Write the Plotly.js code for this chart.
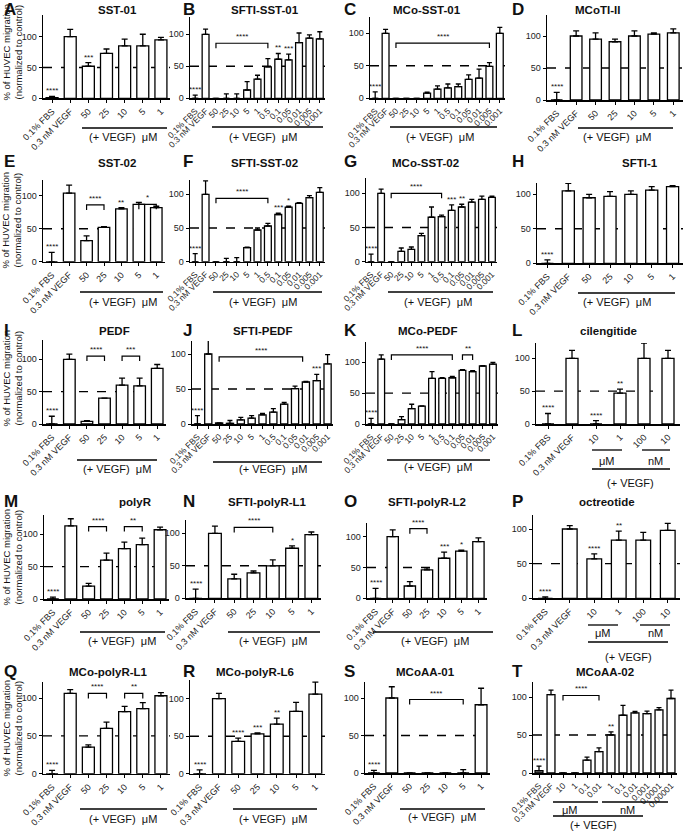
<!DOCTYPE html>
<html><head><meta charset="utf-8">
<script src="https://cdn.plot.ly/plotly-3.0.1.min.js"></script>
<style>html,body{margin:0;padding:0;background:#fff}#chart{width:685px;height:832px}</style>
</head><body><div id="chart"></div>
<script>
// ---------- categories ----------
const catsUM = ['0.1% FBS','0.3 nM VEGF','50','25','10','5','1'];
const catsUMfine = ['0.1% FBS','0.3 nM VEGF','50','25','10','5','1','0.5','0.1','0.05','0.01','0.005','0.001'];
const catsUMnM = ['0.1% FBS','0.3 nM VEGF','10','1','100','10'];
const catsMCoAA02 = ['0.1% FBS','0.3 nM VEGF','10','1','0.1','0.01','1','0.1','0.01','0.001','0.0001','0.00001'];

// ---------- values (mean, upper SEM), significance, brackets [from, to, height, label] ----------
const sst01Mean = [1,100,52,73,85,85,95];
const sst01Err  = [2,12,6,7,11,19,4];
const sst01Sig  = ['****','','***','','','',''];
const sst01Br   = [];

const sftiSst01Mean = [0,100,0,0,0,13,30,49,61,60,87,94,93];
const sftiSst01Err  = [5,8,0,7,7,13,6,13,9,9,15,5,11];
const sftiSst01Sig  = ['****','','','','','','','','**','***','','',''];
const sftiSst01Br   = [[2,7,86,'****']];

const mcoSst01Mean = [0,100,0,0,0,8,14,16,18,29,31,49,100];
const mcoSst01Err  = [10,6,0,0,0,1.5,5,6,4,7,14,6,9];
const mcoSst01Sig  = ['****','','','','','','','','','','','',''];
const mcoSst01Br   = [[2,11,85,'****']];

const mcotiMean = [0,100,95,91,100,103,105];
const mcotiErr  = [12,8,10,4,8,2,6];
const mcotiSig  = ['****','','','','','',''];
const mcotiBr   = [];

const sst02Mean = [0,104,32,52,80,87,82];
const sst02Err  = [14,12,7,1,2,3,2];
const sst02Sig  = ['****','','','','**','',''];
const sst02Br   = [[2,3,86,'****'],[5,6,87,'*']];

const sftiSst02Mean = [0,100,0,0,0,21,47,53,70,81,86.5,95,103];
const sftiSst02Err  = [12,20,0,5,6,0.5,3,4,2,1.5,1,3,7];
const sftiSst02Sig  = ['****','','','','','','','','***','*','','',''];
const sftiSst02Br   = [[2,7,94,'****']];

const mcoSst02Mean = [0,100,0,15,18,38,65,66,75,80,87,91,94];
const mcoSst02Err  = [11,6,0,5,3.5,3.5,15,2,8,4,4,5,2];
const mcoSst02Sig  = ['****','','','','','','','','***','**','','',''];
const mcoSst02Br   = [[2,7,100,'****']];

const sfti1Mean = [0,105,95,97,100,106,111];
const sfti1Err  = [5,11,5,7,5,5,1.5];
const sfti1Sig  = ['****','','','','','',''];
const sfti1Br   = [];

const pedfMean = [0,100,4,40,60,59,86];
const pedfErr  = [12,8,1,0,11,12,6];
const pedfSig  = ['****','','','','','',''];
const pedfBr   = [[2,3,105,'****'],[4,5,105,'***']];

const sftiPedfMean = [0,100,1.5,1,6,8.5,13,17,28.5,50.5,60,62,86];
const sftiPedfErr  = [12,22,0,4,3.5,3.5,2,5,2.5,3.5,1,9,13];
const sftiPedfSig  = ['****','','','','','','','','','','','***',''];
const sftiPedfBr   = [[2,9.7,96,'****']];

const mcoPedfMean = [0,105,0,7,25,29,74,74,75,87,85,94,97];
const mcoPedfErr  = [9,7,0,5,7,0.5,11,1,2,1,1.5,0.5,3];
const mcoPedfSig  = ['****','','','','','','','','','','','',''];
const mcoPedfBr   = [[2,8,112,'****'],[9,10,112,'**']];

const cilengitideMean = [0,100,0,47,100,100];
const cilengitideErr  = [16,12,5,6,23,12];
const cilengitideSig  = ['****','','****','**','',''];
const cilengitideBr   = [];

const polyRMean = [0,113,20,60,78,84,107];
const polyRErr  = [3,11,4,11,10,10,4];
const polyRSig  = ['****','','','','','',''];
const polyRBr   = [[2,3,112,'****'],[4,5,112,'**']];

const sftiPolyRL1Mean = [0,100,30,39,50,77,98];
const sftiPolyRL1Err  = [14,11,7,3,9,3.5,4];
const sftiPolyRL1Sig  = ['****','','','','','*',''];
const sftiPolyRL1Br   = [[2,4,109,'****']];

const sftiPolyRL2Mean = [0,100,20,46,65,76.5,92];
const sftiPolyRL2Err  = [16,11,7,3.5,10,1.5,6];
const sftiPolyRL2Sig  = ['****','','','','***','*',''];
const sftiPolyRL2Br   = [[2,3,113,'****']];

const octreotideMean = [0,100,57,84,84,98];
const octreotideErr  = [2,5,7,13,11,10];
const octreotideSig  = ['****','','****','**','',''];
const octreotideBr   = [];

const mcoPolyRL1Mean = [0,106,35,60,82,86,103];
const mcoPolyRL1Err  = [4.5,5,3,8,7,8,4];
const mcoPolyRL1Sig  = ['****','','','','','',''];
const mcoPolyRL1Br   = [[2,3,106,'****'],[4,5,106,'**']];

const mcoPolyRL6Mean = [0,100,43,53,66,83,106];
const mcoPolyRL6Err  = [5,7,4.5,1.5,8,12,16];
const mcoPolyRL6Sig  = ['****','','****','***','**','',''];
const mcoPolyRL6Br   = [];

const mcoAA01Mean = [0,100,0,0,0,0,91];
const mcoAA01Err  = [3.5,15,0,0,0,4.5,22];
const mcoAA01Sig  = ['****','','','','','',''];
const mcoAA01Br   = [[2,5,98,'****']];

const mcoAA02Mean = [3,103,0,0,17,28,50,76,79,78,83,98];
const mcoAA02Err  = [6,6,0,0,4,5,4,13,2,3.5,3,11];
const mcoAA02Sig  = ['****','','','','','','**','','','','',''];
const mcoAA02Br   = [[2,5,102,'****']];

const panels = [
 {L:'A', title:'SST-01',        cats:catsUM,     mean:sst01Mean,      err:sst01Err,      sig:sst01Sig,      br:sst01Br},
 {L:'B', title:'SFTI-SST-01',   cats:catsUMfine, mean:sftiSst01Mean,  err:sftiSst01Err,  sig:sftiSst01Sig,  br:sftiSst01Br},
 {L:'C', title:'MCo-SST-01',    cats:catsUMfine, mean:mcoSst01Mean,   err:mcoSst01Err,   sig:mcoSst01Sig,   br:mcoSst01Br},
 {L:'D', title:'MCoTI-II',      cats:catsUM,     mean:mcotiMean,      err:mcotiErr,      sig:mcotiSig,      br:mcotiBr},
 {L:'E', title:'SST-02',        cats:catsUM,     mean:sst02Mean,      err:sst02Err,      sig:sst02Sig,      br:sst02Br},
 {L:'F', title:'SFTI-SST-02',   cats:catsUMfine, mean:sftiSst02Mean,  err:sftiSst02Err,  sig:sftiSst02Sig,  br:sftiSst02Br},
 {L:'G', title:'MCo-SST-02',    cats:catsUMfine, mean:mcoSst02Mean,   err:mcoSst02Err,   sig:mcoSst02Sig,   br:mcoSst02Br},
 {L:'H', title:'SFTI-1',        cats:catsUM,     mean:sfti1Mean,      err:sfti1Err,      sig:sfti1Sig,      br:sfti1Br},
 {L:'I', title:'PEDF',          cats:catsUM,     mean:pedfMean,       err:pedfErr,       sig:pedfSig,       br:pedfBr},
 {L:'J', title:'SFTI-PEDF',     cats:catsUMfine, mean:sftiPedfMean,   err:sftiPedfErr,   sig:sftiPedfSig,   br:sftiPedfBr},
 {L:'K', title:'MCo-PEDF',      cats:catsUMfine, mean:mcoPedfMean,    err:mcoPedfErr,    sig:mcoPedfSig,    br:mcoPedfBr},
 {L:'L', title:'cilengitide',   cats:catsUMnM,   mean:cilengitideMean,err:cilengitideErr,sig:cilengitideSig,br:cilengitideBr},
 {L:'M', title:'polyR',         cats:catsUM,     mean:polyRMean,      err:polyRErr,      sig:polyRSig,      br:polyRBr},
 {L:'N', title:'SFTI-polyR-L1', cats:catsUM,     mean:sftiPolyRL1Mean,err:sftiPolyRL1Err,sig:sftiPolyRL1Sig,br:sftiPolyRL1Br},
 {L:'O', title:'SFTI-polyR-L2', cats:catsUM,     mean:sftiPolyRL2Mean,err:sftiPolyRL2Err,sig:sftiPolyRL2Sig,br:sftiPolyRL2Br},
 {L:'P', title:'octreotide',    cats:catsUMnM,   mean:octreotideMean, err:octreotideErr, sig:octreotideSig, br:octreotideBr},
 {L:'Q', title:'MCo-polyR-L1',  cats:catsUM,     mean:mcoPolyRL1Mean, err:mcoPolyRL1Err, sig:mcoPolyRL1Sig, br:mcoPolyRL1Br},
 {L:'R', title:'MCo-polyR-L6',  cats:catsUM,     mean:mcoPolyRL6Mean, err:mcoPolyRL6Err, sig:mcoPolyRL6Sig, br:mcoPolyRL6Br},
 {L:'S', title:'MCoAA-01',      cats:catsUM,     mean:mcoAA01Mean,    err:mcoAA01Err,    sig:mcoAA01Sig,    br:mcoAA01Br},
 {L:'T', title:'MCoAA-02',      cats:catsMCoAA02,mean:mcoAA02Mean,    err:mcoAA02Err,    sig:mcoAA02Sig,    br:mcoAA02Br}
];

// ---------- layout geometry (pixels) ----------
const W = 685, H = 832;
const geo = {
 A:{x:[43,170], y0:98.3, y100:36.7, top:15},  B:{x:[190,325], y0:98.3, y100:34.3, top:17},
 C:{x:[370,505], y0:98.3, y100:33.3, top:17}, D:{x:[547,683], y0:100, y100:36, top:15},
 E:{x:[43,165], y0:261.7, y100:195.7, top:180}, F:{x:[190,325], y0:261.7, y100:194.3, top:180},
 G:{x:[366,497], y0:261.7, y100:193.3, top:178}, H:{x:[537,683], y0:263.3, y100:194.3, top:183},
 I:{x:[43,166], y0:424, y100:359.3, top:340}, J:{x:[192,333], y0:424, y100:354, top:341},
 K:{x:[366,498], y0:424, y100:362.3, top:342}, L:{x:[536,680], y0:424, y100:358.3, top:343},
 M:{x:[44,169], y0:599, y100:534.3, top:515}, N:{x:[186,321], y0:598.3, y100:533.3, top:520},
 O:{x:[367,487], y0:598.3, y100:536.7, top:523}, P:{x:[533,680], y0:598.3, y100:529, top:515},
 Q:{x:[43,170], y0:773.7, y100:698, top:682}, R:{x:[190,325], y0:773.7, y100:698.7, top:680},
 S:{x:[365,490], y0:773, y100:698, top:682}, T:{x:[533,677], y0:773, y100:697, top:682}
};
const rowTitleY = [10, 163, 331, 502, 672];
const letterX = [2, 181, 342, 510];
const titleX = {A:117,B:265,C:427,D:597,E:117,F:264,G:425,H:640,I:115,J:262,K:427,L:608,M:135,N:267,O:427,P:607,Q:108,R:255,S:426,T:605};
const barW = {D:0.6,H:0.58,L:0.5,P:0.6};
// "(+ VEGF)  μM" decorations: [lineY, lineX0, lineX1, textY, textX]
const vegfStd = {
 A:[128,82,167,137,123], B:[127,212,323,137,263], C:[127,390,497,137,440], D:[128,578,673,137,617],
 E:[292,80,163,302,123], F:[292,213,322,302,263], G:[292,388,493,302,438], H:[293,578,675,302,617],
 I:[460,77,157,469,117], J:[462,213,322,469,273], K:[460,387,490,467,438],
 M:[632,80,165,641,122], N:[632,228,320,641,273], O:[632,373,493,641,435],
 Q:[809,80,167,819,123], R:[809,233,317,819,273], S:[809,400,485,817,442]
};
// grouped: um line [y,x0,x1], um text [x,y], nm line [x0,x1], nm text x, vegf line [y,x0,x1], vegf text [x,y]
const vegfGrp = {
 L:{uy:450, ux:[592,622], ut:[607,461], nx:[642,670], nt:655, vy:469, vx:[592,670], vt:[630,483]},
 P:{uy:625, ux:[588,618], ut:[603,633], nx:[640,670], nt:655, vy:642, vx:[588,668], vt:[628,657]},
 T:{uy:802, ux:[553,598], ut:[570,810], nx:[602,668], nt:627, vy:816, vx:[553,643], vt:[593,825]}
};

const FONT = 'Liberation Sans, Arial, Helvetica, sans-serif';
const px = v => v / W, py = v => 1 - v / H;

const data = [], shapes = [], annotations = [];
const layout = {
  width: W, height: H, margin:{l:0,r:0,t:0,b:0}, showlegend:false,
  paper_bgcolor:'#fff', plot_bgcolor:'rgba(0,0,0,0)', font:{family:FONT, color:'#111'},
  shapes, annotations
};

panels.forEach((p, i) => {
  const k = i + 1, g = geo[p.L], n = p.cats.length;
  const xs = p.cats.map((_, j) => j);
  const xa = 'x' + (k === 1 ? '' : k), ya = 'y' + (k === 1 ? '' : k);
  const pxPerUnit = (g.y0 - g.y100) / 100;
  const yTop = (g.y0 - g.top) / pxPerUnit;
  const fine = n > 8;
  const fills = p.mean.map((_, j) => (p.L === 'T' && j === 0) ? '#888' : '#fff');

  data.push({
    type:'bar', x: xs, y: p.mean, xaxis: xa, yaxis: ya,
    width: barW[p.L] || 0.66,
    marker:{color: fills, line:{color:'#000', width:1.3}},
    error_y:{type:'data', array:p.err, arrayminus:p.err.map(() => 0), symmetric:false,
             color:'#000', thickness:1.3, width: fine ? 2.5 : 3},
    hoverinfo:'skip'
  });

  layout['xaxis' + (k === 1 ? '' : k)] = {
    domain:[px(g.x[0]), px(g.x[1])], anchor: ya, range:[-0.5, n - 0.5],
    tickmode:'array', tickvals: xs, ticktext: p.cats, tickangle:-45,
    ticks:'outside', ticklen:3, tickwidth:1, tickcolor:'#000',
    showline:true, linecolor:'#000', linewidth:1.5, showgrid:false, zeroline:false,
    tickfont:{size: fine ? 8.5 : 9, color:'#222', family:FONT}, fixedrange:true
  };
  layout['yaxis' + (k === 1 ? '' : k)] = {
    domain:[py(g.y0), py(g.top)], anchor: xa, range:[0, yTop],
    tickmode:'array', tickvals:[0,50,100], ticktext:['0','50','100'],
    ticks:'outside', ticklen:3, tickwidth:1, tickcolor:'#000',
    showline:true, linecolor:'#000', linewidth:1.5, showgrid:false, zeroline:false,
    tickfont:{size:9, color:'#222', family:FONT}, fixedrange:true
  };

  // dashed 50% line
  shapes.push({type:'line', layer:'below', xref: xa + ' domain', yref: ya, x0:0, x1:1, y0:50, y1:50,
               line:{color:'#000', width:1.4, dash:'dash'}});

  // significance stars over bars
  p.sig.forEach((s, j) => {
    if (!s) return;
    annotations.push({xref: xa, yref: ya, x: j, y: p.mean[j] + p.err[j], text: s, showarrow:false,
      yanchor:'bottom', yshift:-1, font:{size:8, color:'#111', family:FONT}});
  });
  // brackets
  const drop = 5 / pxPerUnit;
  p.br.forEach(b => {
    const [a, c, h, s] = b;
    shapes.push({type:'path', xref: xa, yref: ya,
      path:`M${a},${h - drop} L${a},${h} L${c},${h} L${c},${h - drop}`,
      line:{color:'#000', width:1.2}});
    annotations.push({xref: xa, yref: ya, x:(a + c) / 2, y:h, text:s, showarrow:false,
      yanchor:'bottom', yshift:0, font:{size:8, color:'#111', family:FONT}});
  });

  // titles and panel letters
  const row = Math.floor(i / 4), col = i % 4;
  annotations.push({xref:'paper', yref:'paper', x: px(titleX[p.L]), y: py(rowTitleY[row]), text:'<b>' + p.title + '</b>',
    showarrow:false, xanchor:'center', yanchor:'middle', font:{size:11.5, color:'#111', family:FONT}});
  annotations.push({xref:'paper', yref:'paper', x: px(letterX[col]), y: py(rowTitleY[row] - 1), text:'<b>' + p.L + '</b>',
    showarrow:false, xanchor:'left', yanchor:'middle', font:{size:17, color:'#111', family:FONT}});

  // (+ VEGF) decorations
  const lineStyle = {color:'#000', width:1.3};
  if (vegfStd[p.L]) {
    const v = vegfStd[p.L];
    shapes.push({type:'line', xref:'paper', yref:'paper', x0:px(v[1]), x1:px(v[2]), y0:py(v[0]), y1:py(v[0]), line:lineStyle});
    annotations.push({xref:'paper', yref:'paper', x:px(v[4]), y:py(v[3]), text:'(+ VEGF)  μM', showarrow:false,
      xanchor:'center', yanchor:'middle', font:{size:11, color:'#111', family:FONT}});
  } else if (vegfGrp[p.L]) {
    const v = vegfGrp[p.L];
    shapes.push({type:'line', xref:'paper', yref:'paper', x0:px(v.ux[0]), x1:px(v.ux[1]), y0:py(v.uy), y1:py(v.uy), line:lineStyle});
    shapes.push({type:'line', xref:'paper', yref:'paper', x0:px(v.nx[0]), x1:px(v.nx[1]), y0:py(v.uy), y1:py(v.uy), line:lineStyle});
    shapes.push({type:'line', xref:'paper', yref:'paper', x0:px(v.vx[0]), x1:px(v.vx[1]), y0:py(v.vy), y1:py(v.vy), line:lineStyle});
    annotations.push({xref:'paper', yref:'paper', x:px(v.ut[0]), y:py(v.ut[1]), text:'μM', showarrow:false,
      xanchor:'center', yanchor:'middle', font:{size:11, color:'#111', family:FONT}});
    annotations.push({xref:'paper', yref:'paper', x:px(v.nt), y:py(v.ut[1]), text:'nM', showarrow:false,
      xanchor:'center', yanchor:'middle', font:{size:11, color:'#111', family:FONT}});
    annotations.push({xref:'paper', yref:'paper', x:px(v.vt[0]), y:py(v.vt[1]), text:'(+ VEGF)', showarrow:false,
      xanchor:'center', yanchor:'middle', font:{size:11, color:'#111', family:FONT}});
  }
});

// y-axis titles for the left column
const yTitleCenters = [52, 220, 378, 557, 728];
yTitleCenters.forEach(c => {
  annotations.push({xref:'paper', yref:'paper', x:px(11.5), y:py(c), text:'% of HUVEC migration<br>(normalized to control)',
    showarrow:false, textangle:-90, xanchor:'center', yanchor:'middle',
    font:{size:9.5, color:'#111', family:FONT}});
});

Plotly.newPlot('chart', data, layout, {staticPlot:true, displayModeBar:false});
</script>
</body></html>
